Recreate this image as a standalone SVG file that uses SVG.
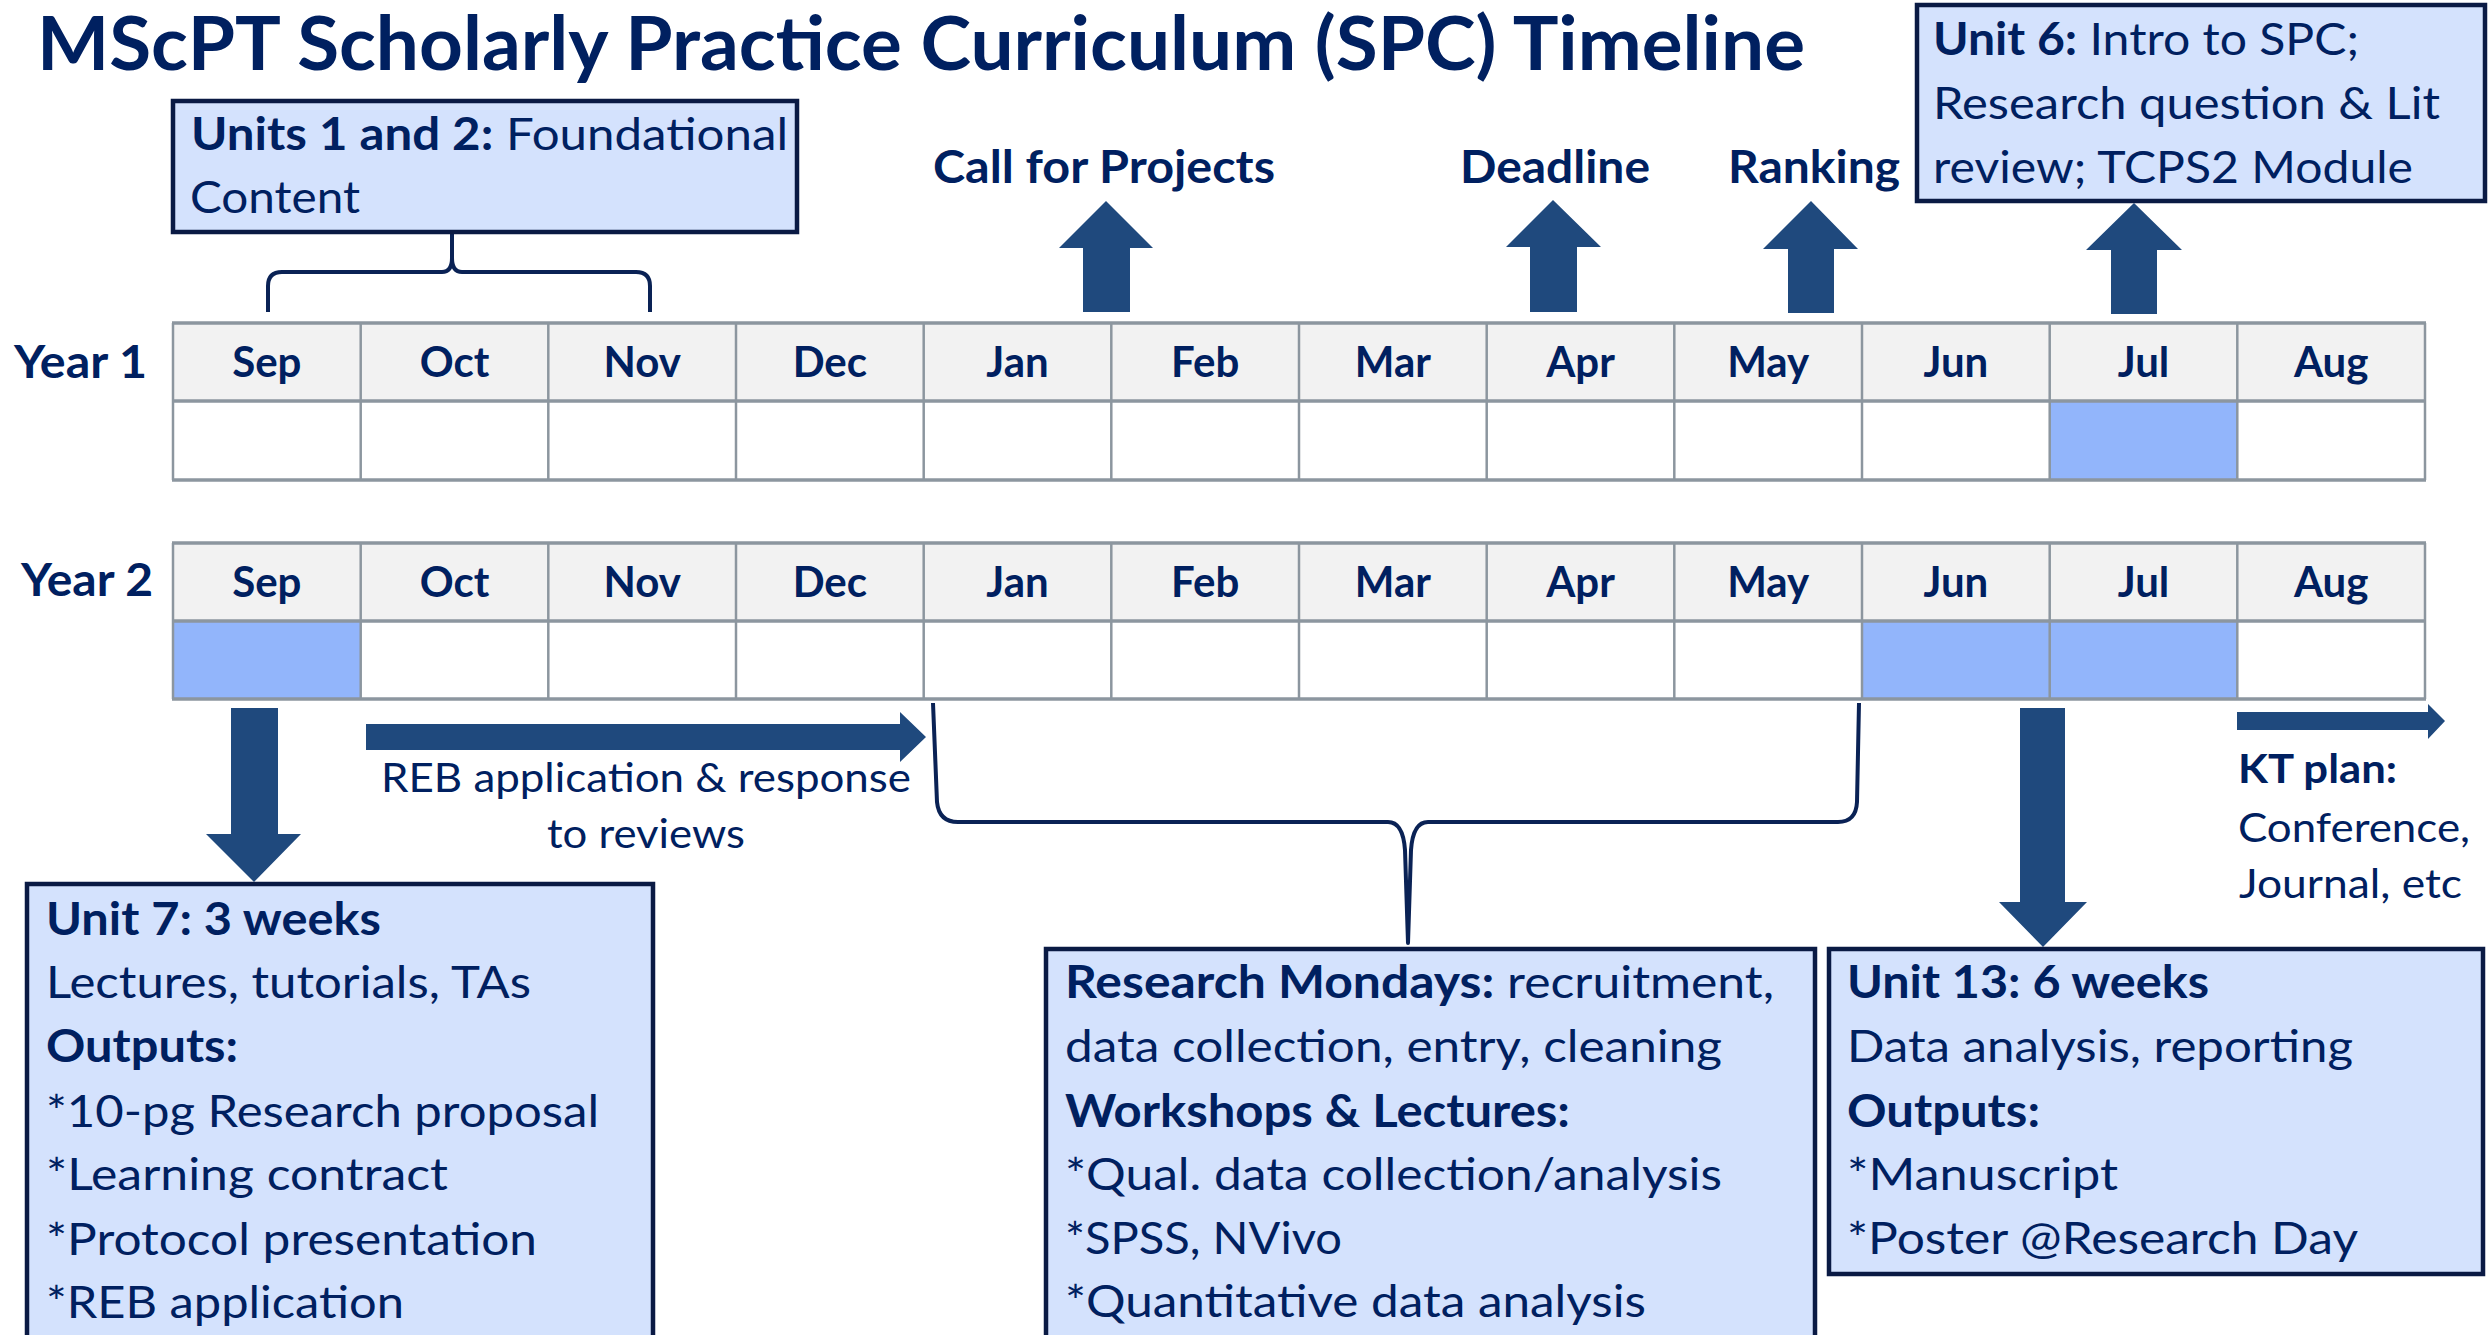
<svg xmlns="http://www.w3.org/2000/svg" width="2489" height="1335" viewBox="0 0 2489 1335">
<style>
text{font-family:Lato,"Open Sans","Liberation Sans",sans-serif;fill:#002060}
.t{font-size:74px;font-weight:700}
.b{font-weight:700}
.m{font-size:42px;font-weight:700;text-anchor:middle}
.y{font-size:46px;font-weight:700}
.bx{font-size:45px}
.lbl{font-size:46px;font-weight:700}
.sm{font-size:40px}
.box{fill:#d4e2fd;stroke:#0a1a44;stroke-width:4.5}
.arr{fill:#1f497d}
.hd{fill:#f2f2f2}
.hl{fill:#92b5fb}
.gh{stroke:#8c969f;stroke-width:3.5}
.gv{stroke:#8c969f;stroke-width:2.5}
.br{fill:none;stroke:#0a2255;stroke-width:4;stroke-linejoin:round}
</style>
<rect width="2489" height="1335" fill="#fff"/>
<text class="t" x="37" y="70" textLength="1768" lengthAdjust="spacingAndGlyphs">MScPT Scholarly Practice Curriculum (SPC) Timeline</text>

<g id="grid-year1">
<text class="y" x="14" y="378" textLength="133" lengthAdjust="spacingAndGlyphs">Year 1</text>
<rect class="hd" x="173" y="323" width="2252" height="78"/>
<rect fill="#fff" x="173" y="401" width="2252" height="79"/>
<rect class="hl" x="2049.7" y="401" width="187.6" height="79"/>
<g>
<line class="gv" x1="173" y1="323" x2="173" y2="480"/>
<line class="gv" x1="360.7" y1="323" x2="360.7" y2="480"/>
<line class="gv" x1="548.3" y1="323" x2="548.3" y2="480"/>
<line class="gv" x1="736" y1="323" x2="736" y2="480"/>
<line class="gv" x1="923.7" y1="323" x2="923.7" y2="480"/>
<line class="gv" x1="1111.3" y1="323" x2="1111.3" y2="480"/>
<line class="gv" x1="1299" y1="323" x2="1299" y2="480"/>
<line class="gv" x1="1486.7" y1="323" x2="1486.7" y2="480"/>
<line class="gv" x1="1674.3" y1="323" x2="1674.3" y2="480"/>
<line class="gv" x1="1862" y1="323" x2="1862" y2="480"/>
<line class="gv" x1="2049.7" y1="323" x2="2049.7" y2="480"/>
<line class="gv" x1="2237.3" y1="323" x2="2237.3" y2="480"/>
<line class="gv" x1="2425" y1="323" x2="2425" y2="480"/>
<line class="gh" x1="172" y1="323" x2="2426" y2="323"/>
<line class="gh" x1="172" y1="401" x2="2426" y2="401"/>
<line class="gh" x1="172" y1="480" x2="2426" y2="480"/>
</g>
<text class="m" x="266.8" y="377">Sep</text>
<text class="m" x="454.5" y="377">Oct</text>
<text class="m" x="642.2" y="377">Nov</text>
<text class="m" x="829.8" y="377">Dec</text>
<text class="m" x="1017.5" y="377">Jan</text>
<text class="m" x="1205.2" y="377">Feb</text>
<text class="m" x="1392.9" y="377">Mar</text>
<text class="m" x="1580.5" y="377">Apr</text>
<text class="m" x="1768.2" y="377">May</text>
<text class="m" x="1955.9" y="377">Jun</text>
<text class="m" x="2143.5" y="377">Jul</text>
<text class="m" x="2331.2" y="377">Aug</text>
</g>

<g id="grid-year2">
<text class="y" x="21" y="596" textLength="132" lengthAdjust="spacingAndGlyphs">Year 2</text>
<rect class="hd" x="173" y="543" width="2252" height="78"/>
<rect fill="#fff" x="173" y="621" width="2252" height="78"/>
<rect class="hl" x="173" y="621" width="187.7" height="78"/>
<rect class="hl" x="1862" y="621" width="375.3" height="78"/>
<g>
<line class="gv" x1="173" y1="543" x2="173" y2="699"/>
<line class="gv" x1="360.7" y1="543" x2="360.7" y2="699"/>
<line class="gv" x1="548.3" y1="543" x2="548.3" y2="699"/>
<line class="gv" x1="736" y1="543" x2="736" y2="699"/>
<line class="gv" x1="923.7" y1="543" x2="923.7" y2="699"/>
<line class="gv" x1="1111.3" y1="543" x2="1111.3" y2="699"/>
<line class="gv" x1="1299" y1="543" x2="1299" y2="699"/>
<line class="gv" x1="1486.7" y1="543" x2="1486.7" y2="699"/>
<line class="gv" x1="1674.3" y1="543" x2="1674.3" y2="699"/>
<line class="gv" x1="1862" y1="543" x2="1862" y2="699"/>
<line class="gv" x1="2049.7" y1="543" x2="2049.7" y2="699"/>
<line class="gv" x1="2237.3" y1="543" x2="2237.3" y2="699"/>
<line class="gv" x1="2425" y1="543" x2="2425" y2="699"/>
<line class="gh" x1="172" y1="543" x2="2426" y2="543"/>
<line class="gh" x1="172" y1="621" x2="2426" y2="621"/>
<line class="gh" x1="172" y1="699" x2="2426" y2="699"/>
</g>
<text class="m" x="266.8" y="597">Sep</text>
<text class="m" x="454.5" y="597">Oct</text>
<text class="m" x="642.2" y="597">Nov</text>
<text class="m" x="829.8" y="597">Dec</text>
<text class="m" x="1017.5" y="597">Jan</text>
<text class="m" x="1205.2" y="597">Feb</text>
<text class="m" x="1392.9" y="597">Mar</text>
<text class="m" x="1580.5" y="597">Apr</text>
<text class="m" x="1768.2" y="597">May</text>
<text class="m" x="1955.9" y="597">Jun</text>
<text class="m" x="2143.5" y="597">Jul</text>
<text class="m" x="2331.2" y="597">Aug</text>
</g>

<g id="connectors">
<path class="br" d="M268 312 L268 286 Q268 272 282 272 L442 272 Q452 272 452 258 L452 232 M452 258 Q452 272 462 272 L636 272 Q650 272 650 286 L650 312"/>
<path class="br" d="M933 703 L937 802 Q939 822 958 822 L1388 822 Q1403 822 1405 850 L1408 943 L1411 850 Q1413 822 1428 822 L1838 822 Q1856 822 1857 802 L1859 703"/>
<polygon class="arr" points="1083,312 1083,248 1059,248 1106,201 1153,248 1130,248 1130,312"/>
<polygon class="arr" points="1530,312 1530,247 1506,247 1553,200 1601,247 1577,247 1577,312"/>
<polygon class="arr" points="1788,313 1788,249 1763,249 1811,201 1858,249 1834,249 1834,313"/>
<polygon class="arr" points="2111,314 2111,250 2086,250 2134,203 2182,250 2157,250 2157,314"/>
<polygon class="arr" points="231,708 278,708 278,834 301,834 254,882 206,834 231,834"/>
<polygon class="arr" points="2020,708 2065,708 2065,902 2087,902 2043,947 1999,902 2020,902"/>
<polygon class="arr" points="366,724 900,724 900,712 926,737 900,762 900,750 366,750"/>
<polygon class="arr" points="2237,712 2428,712 2428,704 2445,721 2428,739 2428,730 2237,730"/>
</g>

<g id="labels">
<text class="lbl" x="933" y="183" textLength="342" lengthAdjust="spacingAndGlyphs">Call for Projects</text>
<text class="lbl" x="1460" y="183" textLength="190" lengthAdjust="spacingAndGlyphs">Deadline</text>
<text class="lbl" x="1728" y="183" textLength="172" lengthAdjust="spacingAndGlyphs">Ranking</text>
<text class="sm" x="381" y="792" textLength="530" lengthAdjust="spacingAndGlyphs">REB application &amp; response</text>
<text class="sm" x="547" y="848" textLength="198" lengthAdjust="spacingAndGlyphs">to reviews</text>
<text class="sm b" x="2238" y="783" textLength="159" lengthAdjust="spacingAndGlyphs">KT plan:</text>
<text class="sm" x="2238" y="842" textLength="232" lengthAdjust="spacingAndGlyphs">Conference,</text>
<text class="sm" x="2239" y="898" textLength="223" lengthAdjust="spacingAndGlyphs">Journal, etc</text>
</g>

<g id="units-1-2">
<rect class="box" x="173" y="101" width="624" height="131"/>
<text class="bx" x="191" y="150" textLength="597" lengthAdjust="spacingAndGlyphs"><tspan class="b">Units 1 and 2:</tspan> Foundational</text>
<text class="bx" x="190" y="213" textLength="170" lengthAdjust="spacingAndGlyphs">Content</text>
</g>

<g id="unit-6">
<rect class="box" x="1917" y="5" width="568" height="196"/>
<text class="bx" x="1933" y="55" textLength="426" lengthAdjust="spacingAndGlyphs"><tspan class="b">Unit 6:</tspan> Intro to SPC;</text>
<text class="bx" x="1933" y="119" textLength="507" lengthAdjust="spacingAndGlyphs">Research question &amp; Lit</text>
<text class="bx" x="1933" y="183" textLength="480" lengthAdjust="spacingAndGlyphs">review; TCPS2 Module</text>
</g>

<g id="unit-7">
<rect class="box" x="27" y="884" width="626" height="470"/>
<text class="bx b" x="46" y="935" textLength="335" lengthAdjust="spacingAndGlyphs">Unit 7: 3 weeks</text>
<text class="bx" x="46" y="998" textLength="485" lengthAdjust="spacingAndGlyphs">Lectures, tutorials, TAs</text>
<text class="bx b" x="46" y="1062" textLength="192" lengthAdjust="spacingAndGlyphs">Outputs:</text>
<text class="bx" x="46" y="1127" textLength="553" lengthAdjust="spacingAndGlyphs">*10-pg Research proposal</text>
<text class="bx" x="46" y="1190" textLength="402" lengthAdjust="spacingAndGlyphs">*Learning contract</text>
<text class="bx" x="46" y="1255" textLength="491" lengthAdjust="spacingAndGlyphs">*Protocol presentation</text>
<text class="bx" x="46" y="1318" textLength="358" lengthAdjust="spacingAndGlyphs">*REB application</text>
</g>

<g id="research-mondays">
<rect class="box" x="1046" y="949" width="769" height="405"/>
<text class="bx" x="1065" y="998" textLength="709" lengthAdjust="spacingAndGlyphs"><tspan class="b">Research Mondays:</tspan> recruitment,</text>
<text class="bx" x="1065" y="1062" textLength="657" lengthAdjust="spacingAndGlyphs">data collection, entry, cleaning</text>
<text class="bx b" x="1065" y="1127" textLength="505" lengthAdjust="spacingAndGlyphs">Workshops &amp; Lectures:</text>
<text class="bx" x="1065" y="1190" textLength="657" lengthAdjust="spacingAndGlyphs">*Qual. data collection/analysis</text>
<text class="bx" x="1065" y="1254" textLength="277" lengthAdjust="spacingAndGlyphs">*SPSS, NVivo</text>
<text class="bx" x="1065" y="1317" textLength="581" lengthAdjust="spacingAndGlyphs">*Quantitative data analysis</text>
</g>

<g id="unit-13">
<rect class="box" x="1829" y="949" width="654" height="325"/>
<text class="bx b" x="1847" y="998" textLength="362" lengthAdjust="spacingAndGlyphs">Unit 13: 6 weeks</text>
<text class="bx" x="1847" y="1062" textLength="506" lengthAdjust="spacingAndGlyphs">Data analysis, reporting</text>
<text class="bx b" x="1847" y="1127" textLength="193" lengthAdjust="spacingAndGlyphs">Outputs:</text>
<text class="bx" x="1847" y="1190" textLength="271" lengthAdjust="spacingAndGlyphs">*Manuscript</text>
<text class="bx" x="1847" y="1254" textLength="511" lengthAdjust="spacingAndGlyphs">*Poster @Research Day</text>
</g>
</svg>
